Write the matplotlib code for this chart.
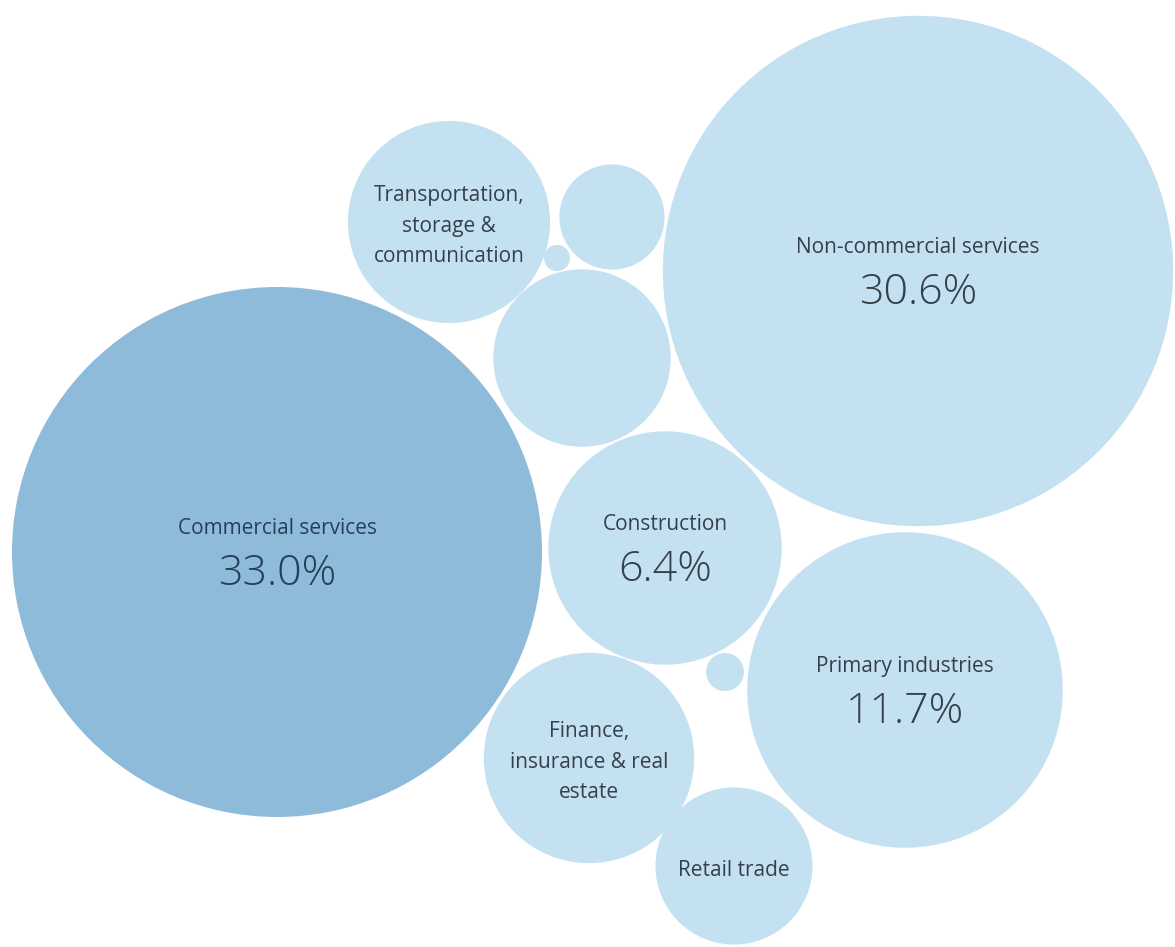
import numpy as np
import matplotlib.pyplot as plt
from matplotlib.patches import Circle

plt.rcParams['font.family'] = ['Open Sans', 'DejaVu Sans']

# share of employment by sector (%)
sectors = ["Commercial services", "Non-commercial services", "Primary industries",
           "Construction", "Finance,\ninsurance & real\nestate",
           "Transportation,\nstorage &\ncommunication", "Unclassified",
           "Retail trade", "Other", "Utilities", "Mining"]
shares = [33.0, 30.6, 11.7, 6.4, 5.2, 4.8, 3.7, 2.9, 1.3, 0.17, 0.08]
show_label = [True, True, True, True, True, True, False, True, False, False, False]
show_value = [True, True, True, True, False, False, False, False, False, False, False]

# packed bubble layout (pixel centres)
layout = [(277, 552), (918, 271), (905, 690), (665, 548), (589, 758),
          (449, 222), (582, 358), (734, 866), (612, 217), (725, 672), (557, 258)]

W, H = 1175, 947
fig = plt.figure(figsize=(W / 100, H / 100), dpi=100)
ax = fig.add_axes([0, 0, 1, 1])
ax.set_xlim(0, W)
ax.set_ylim(H, 0)
ax.set_aspect('equal')
ax.axis('off')

# radius scaled so area follows share
scale = 265 / np.sqrt(shares[0])
radii = scale * np.sqrt(shares)

for i, (name, val) in enumerate(zip(sectors, shares)):
    cx, cy = layout[i]
    dark = i == 0
    color = '#8fbbdb' if dark else '#c4e1f2'
    ax.add_patch(Circle((cx, cy), radii[i], facecolor=color, edgecolor='none'))
    txt = '#243f5c' if dark else '#36404a'
    if show_value[i]:
        ax.text(cx, cy - 24, name, ha='center', va='center', fontsize=15, color=txt)
        ax.text(cx, cy + 22, f"{val:.1f}%", ha='center', va='center',
                fontsize=31, color=txt, fontweight='light')
    elif show_label[i]:
        ax.text(cx, cy + 4, name, ha='center', va='center', fontsize=15,
                color=txt, linespacing=1.6)

fig.savefig('out.png', dpi=100, facecolor='white')
